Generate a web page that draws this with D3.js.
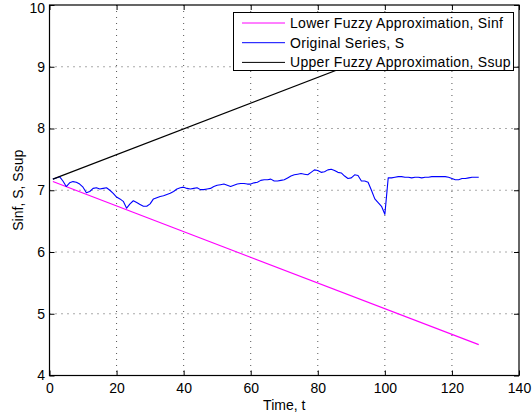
<!DOCTYPE html>
<html>
<head>
<meta charset="utf-8">
<script src="https://cdn.jsdelivr.net/npm/d3@7"></script>
<style>
  html, body { margin: 0; padding: 0; background: #fff; }
  svg { display: block; font-family: "Liberation Sans", Arial, Helvetica, sans-serif; }
</style>
</head>
<body>
<svg id="chart" width="532" height="419"></svg>
<script>
// ---- data ----
const xTicks = [0, 20, 40, 60, 80, 100, 120, 140];
const yTicks = [4, 5, 6, 7, 8, 9, 10];
const seriesNames = ["Lower Fuzzy Approximation, Sinf", "Original Series, S", "Upper Fuzzy Approximation, Ssup"];
const seriesColors = ["#ff00ff", "#0000ff", "#000000"];
const xLabel = "Time, t";
const yLabel = "Sinf, S, Ssup";

// Original series S, t = 1..128
const sValues = [
  7.18, 7.20, 7.22, 7.15, 7.06, 7.12, 7.14, 7.13, 7.10, 7.05,
  6.96, 6.98, 7.03, 7.04, 7.02, 7.03, 7.04, 7.00, 6.95, 6.89,
  6.86, 6.82, 6.71, 6.78, 6.83, 6.80, 6.77, 6.74, 6.74, 6.78,
  6.86, 6.88, 6.90, 6.91, 6.93, 6.95, 6.98, 7.02, 7.04, 7.05,
  7.03, 7.02, 7.03, 7.04, 7.01, 7.01, 7.02, 7.03, 7.06, 7.08,
  7.09, 7.10, 7.08, 7.06, 7.08, 7.10, 7.11, 7.11, 7.10, 7.10,
  7.12, 7.13, 7.16, 7.17, 7.17, 7.18, 7.15, 7.15, 7.16, 7.17,
  7.20, 7.23, 7.25, 7.26, 7.27, 7.26, 7.25, 7.29, 7.33, 7.32,
  7.29, 7.30, 7.33, 7.34, 7.32, 7.29, 7.28, 7.23, 7.19, 7.20,
  7.25, 7.24, 7.15, 7.15, 7.13, 7.00, 6.86, 6.80, 6.74, 6.61,
  7.20, 7.20, 7.21, 7.22, 7.22, 7.21, 7.21, 7.20, 7.21, 7.21,
  7.20, 7.21, 7.21, 7.22, 7.22, 7.22, 7.22, 7.22, 7.21, 7.19,
  7.17, 7.17, 7.19, 7.19, 7.20, 7.21, 7.21, 7.21
];
// Lower and upper approximations (straight lines: endpoints)
const sinfPoints = [[1, 7.14], [128, 4.50]];
const ssupPoints = [[1, 7.18], [128, 9.83]];

// ---- layout ----
const svg = d3.select("#chart");
const L = 49.5, R = 519, T = 5, B = 375.5;

const x = d3.scaleLinear().domain([0, 140]).range([L, R]);
const y = d3.scaleLinear().domain([4, 10]).range([B, T]);

const sPoints = sValues.map((v, i) => [i + 1, v]);

// grid
const grid = svg.append("g");
grid.selectAll(".gx").data(xTicks.slice(1, -1)).enter().append("line")
  .attr("x1", d => x(d)).attr("x2", d => x(d)).attr("y1", T).attr("y2", B)
  .attr("stroke", "#555").attr("stroke-width", 1).attr("stroke-dasharray", "1,5");
grid.selectAll(".gy").data(yTicks.slice(1, -1)).enter().append("line")
  .attr("y1", d => y(d)).attr("y2", d => y(d)).attr("x1", L).attr("x2", R)
  .attr("stroke", "#555").attr("stroke-width", 1).attr("stroke-dasharray", "1,5");

// lines
const line = d3.line().x(d => x(d[0])).y(d => y(d[1]));
const plot = svg.append("g");
plot.append("path").datum(sinfPoints).attr("d", line)
  .attr("fill", "none").attr("stroke", seriesColors[0]).attr("stroke-width", 1.1);
plot.append("path").datum(sPoints).attr("d", line)
  .attr("fill", "none").attr("stroke", seriesColors[1]).attr("stroke-width", 1.1)
  .attr("stroke-linejoin", "round");
plot.append("path").datum(ssupPoints).attr("d", line)
  .attr("fill", "none").attr("stroke", seriesColors[2]).attr("stroke-width", 1.1);

// axes (MATLAB box style with inward ticks)
const tickLen = 5;
const fmt = d3.format("d");
const axB = svg.append("g").attr("transform", `translate(0,${B})`)
  .call(d3.axisBottom(x).tickValues(xTicks).tickFormat(fmt).tickSizeInner(-tickLen).tickSizeOuter(0).tickPadding(8));
const axT = svg.append("g").attr("transform", `translate(0,${T})`)
  .call(d3.axisTop(x).tickValues(xTicks).tickSizeInner(-tickLen).tickSizeOuter(0).tickFormat(""));
const axL = svg.append("g").attr("transform", `translate(${L},0)`)
  .call(d3.axisLeft(y).tickValues(yTicks).tickFormat(fmt).tickSizeInner(-tickLen).tickSizeOuter(0).tickPadding(4.5));
const axR = svg.append("g").attr("transform", `translate(${R},0)`)
  .call(d3.axisRight(y).tickValues(yTicks).tickSizeInner(-tickLen).tickSizeOuter(0).tickFormat(""));
[axB, axT, axL, axR].forEach(a => {
  a.select(".domain").remove();
  a.selectAll(".tick line").attr("stroke", "#000");
  a.selectAll(".tick text").attr("fill", "#000").attr("font-size", 14)
    .attr("font-family", "'Liberation Sans', Arial, sans-serif");
});
// keep the top label ("10") inside the picture
axL.selectAll(".tick text").filter(d => d === 10).attr("dy", "0.5em");
svg.append("rect").attr("x", L).attr("y", T).attr("width", R - L).attr("height", B - T)
  .attr("fill", "none").attr("stroke", "#000").attr("stroke-width", 1.2);

// axis labels
svg.append("text").attr("x", (L + R) / 2).attr("y", 410).attr("text-anchor", "middle")
  .attr("font-size", 14).attr("fill", "#000").text(xLabel);
svg.append("text").attr("transform", `translate(23,${(T + B) / 2}) rotate(-90)`)
  .attr("text-anchor", "middle").attr("font-size", 14).attr("fill", "#000").text(yLabel);

// legend
const lg = svg.append("g");
lg.append("rect").attr("x", 233.5).attr("y", 12.5).attr("width", 280).attr("height", 58)
  .attr("fill", "#fff").attr("stroke", "#000").attr("stroke-width", 1);
seriesNames.forEach((name, i) => {
  const cy = 23 + i * 19.7;
  lg.append("line").attr("x1", 242).attr("x2", 285).attr("y1", cy).attr("y2", cy)
    .attr("stroke", seriesColors[i]).attr("stroke-width", 1);
  lg.append("text").attr("x", 290).attr("y", cy).attr("dy", "0.35em")
    .attr("font-size", 14).attr("letter-spacing", "0.3px").attr("fill", "#000").text(name);
});
</script>
</body>
</html>
